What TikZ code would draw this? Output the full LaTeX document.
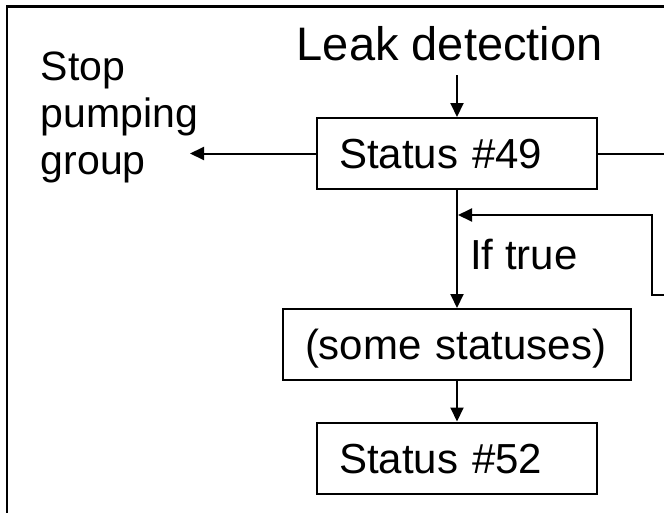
\documentclass[tikz,border=0pt]{standalone}
\usepackage{fontspec}
\setmainfont{Liberation Sans}
\usetikzlibrary{arrows.meta}
\begin{document}
\begin{tikzpicture}[x=1pt,y=-1pt,
  arr/.style={line width=2pt,-{Triangle[length=14pt,width=13pt]}},
  wire/.style={line width=2pt},
  stepbox/.style={draw,line width=2pt,inner xsep=22pt,inner ysep=0pt,align=left,
    minimum height=71pt,text height=30pt,text depth=0pt,
    font=\fontsize{42}{50}\selectfont},
  plain/.style={inner sep=0pt}]
\useasboundingbox (0,0) rectangle (664,512);
\clip (0,0) rectangle (664,512);
% outer frame, running past the right and bottom edges
\draw[line width=2.5pt] (7,6.5) rectangle (720,560);

% free texts
\node[plain,anchor=base,font=\fontsize{47}{54}\selectfont] (leak) at (449.7,60) {Leak detection};
\node[plain,anchor=north west] (stop) at (40.7,47.1)
  {\fontsize{41}{47}\selectfont
   \begin{tabular}{@{}l@{}}Stop\\pumping\\group\end{tabular}};

% boxes
\node[stepbox,text width=236pt] (s49) at (457,153.5) {Status \#49};
\node[stepbox,text width=304pt] (some) at (457,344.5) {(some statuses)};
\node[stepbox,text width=236pt] (s52) at (457,458) {Status \#52};
\node[plain,anchor=base west,font=\fontsize{42}{50}\selectfont] (iftrue) at (470,269) {If true};

% connector end points
\coordinate (leakout) at (457,75);
\coordinate (stopin) at (190,153.5);
\coordinate (rout) at (680,153.5);
\coordinate (fbin) at (680,295);
\coordinate (fbtip) at (458,215);

% connectors
\draw[arr] (leakout) -- (s49.north);
\draw[arr] (s49.west) -- (stopin);
\draw[wire] (s49.east) -- (rout);
\draw[arr] (s49.south) -- (some.north);
\draw[arr] (fbin) -- (652,295) -- (652,215) -- (fbtip);
\draw[arr] (some.south) -- (s52.north);
\end{tikzpicture}
\end{document}
